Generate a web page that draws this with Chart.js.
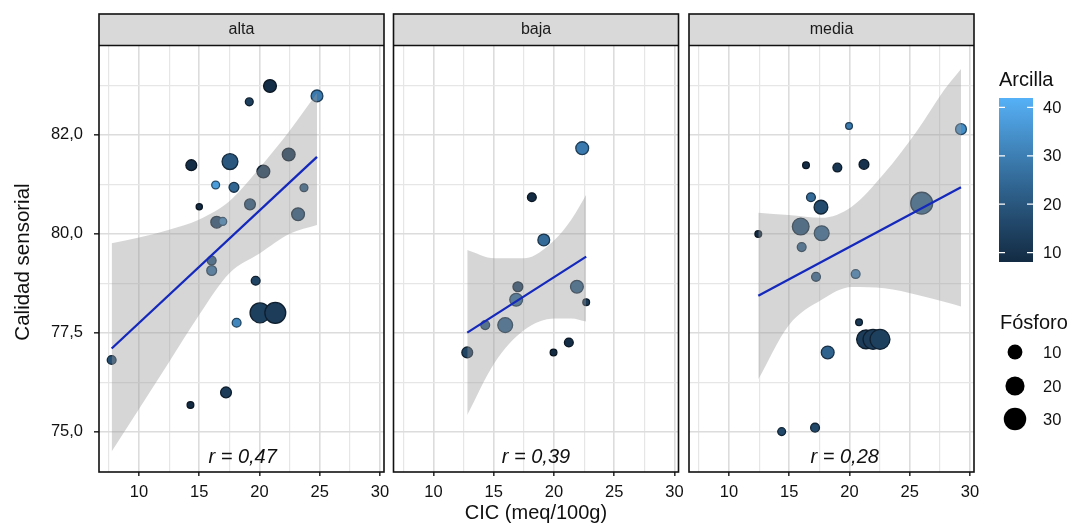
<!DOCTYPE html>
<html><head><meta charset="utf-8">
<script src="https://cdn.jsdelivr.net/npm/chart.js@4.4.1/dist/chart.umd.min.js"></script>
<style>
html,body{margin:0;padding:0;background:#fff;}
#wrap{position:relative;width:1072px;height:525px;overflow:hidden;}
canvas{position:absolute;left:0;top:0;}
</style></head><body>
<div id="wrap">
<canvas id="c1" width="1072" height="525"></canvas>
<canvas id="c2" width="1072" height="525"></canvas>
<canvas id="c3" width="1072" height="525"></canvas>
</div>
<script>
// ---------------- DATA ----------------
const panelNames = ['alta', 'baja', 'media'];

const altaCIC      = [20.87,19.15,24.77,22.42,17.55,14.34,20.32,16.36,17.88,23.69,15.0,19.21,16.45,16.95,23.2,16.03,16.03,19.68,20.04,21.31,18.1,7.73,17.22,14.27];
const altaCalidad  = [83.73,83.33,83.48,82.0,81.82,81.73,81.57,81.23,81.17,81.16,80.68,80.74,80.29,80.31,80.49,79.32,79.07,78.81,78.0,78.0,77.75,76.81,75.99,75.67];
const altaArcilla  = [9,14,29,12,20,9,13,37,24,22,8,19,16,31,19,21,27,15,14,13,32,18,13,8];
const altaFosforo  = [6.5,1.1,5,6.5,12,3.8,6.5,1.1,2.7,1.1,0.3,3.8,5,1.1,6.5,1.8,2.7,1.8,22,25,1.8,1.8,3.8,0.5];

const bajaCIC      = [22.34,18.16,19.15,17.0,16.86,21.9,22.67,14.29,15.95,12.8,19.96,21.23];
const bajaCalidad  = [82.16,80.92,79.84,78.66,78.33,78.66,78.27,77.69,77.69,77.0,77.0,77.25];
const bajaArcilla  = [29,8,25,15,25,22,12,21,23,15,8,9];
const bajaFosforo  = [6.5,1.8,5,2.7,6.5,6.5,0.5,1.8,10,3.8,0.5,1.8];

const mediaCIC     = [19.96,29.25,16.39,18.99,21.2,16.8,17.63,25.99,15.95,17.69,12.43,16.03,17.22,20.51,20.79,21.37,21.95,22.53,18.19,14.37,17.14];
const mediaCalidad = [82.72,82.64,81.73,81.67,81.75,80.92,80.67,80.77,80.18,80.01,79.99,79.66,78.91,78.98,77.76,77.33,77.33,77.33,77.0,75.0,75.1];
const mediaArcilla = [29,34,8,11,10,25,17,22,19,23,8,23,23,30,12,13,13,14,23,16,16];
const mediaFosforo = [0.5,3.8,0.5,1.8,2.7,1.8,8,28,14,10,0.5,1.8,1.8,1.8,0.5,19,22,22,6.5,1.1,1.8];

// fitted lines (endpoints)
const altaLineX  = [7.73, 24.77];  const altaLineY  = [77.1, 81.94];
const bajaLineX  = [12.8, 22.67];  const bajaLineY  = [77.5, 79.42];
const mediaLineX = [12.43, 29.25]; const mediaLineY = [78.43, 81.17];

// confidence bands
const altaBandX     = [7.73, 10, 12.5, 15, 17.5, 20, 22.5, 24.77];
const altaBandUpper = [79.76, 79.9, 80.1, 80.36, 80.82, 81.66, 82.6, 83.55];
const altaBandLower = [74.5, 75.57, 76.76, 77.95, 79.0, 79.5, 80.0, 80.22];

const bajaBandX     = [12.8, 15.06, 17.55, 20.04, 21.43, 22.67];
const bajaBandUpper = [79.59, 79.38, 79.38, 79.84, 80.35, 80.98];
const bajaBandLower = [75.42, 76.73, 77.57, 77.86, 77.86, 77.78];

const mediaBandX     = [12.43, 14.95, 17.69, 20.18, 22.9, 25.65, 27.85, 29.25];
const mediaBandUpper = [80.53, 80.47, 80.4, 80.68, 81.53, 82.62, 83.63, 84.16];
const mediaBandLower = [76.32, 77.68, 78.33, 78.65, 78.62, 78.45, 78.28, 78.16];

const rLabels = ['r = 0,47', 'r = 0,39', 'r = 0,28'];
const rLabelX = [18.6, 18.5, 19.6];

const xTickValues = [10, 15, 20, 25, 30];
const xTickLabels = ['10', '15', '20', '25', '30'];
const xMinorValues = [7.5, 12.5, 17.5, 22.5, 27.5];
const yTickValues = [75, 77.5, 80, 82.5];
const yTickLabels = ['75,0', '77,5', '80,0', '82,0'];
const yMinorValues = [76.25, 78.75, 81.25, 83.75];

const arcillaTicks = [10, 20, 30, 40];
const arcillaRange = [8.07, 41.93];
const fosforoTicks = [10, 20, 30];

// ---------------- STYLE HELPERS ----------------
const FONT = "'Liberation Sans', Arial, sans-serif";
const LOW = '#132B43', HIGH = '#56B1F7';

function hex2rgb(h){return [parseInt(h.slice(1,3),16),parseInt(h.slice(3,5),16),parseInt(h.slice(5,7),16)];}
function s2l(c){c/=255;return c<=0.04045?c/12.92:Math.pow((c+0.055)/1.055,2.4);}
function l2s(c){const v=c<=0.0031308?12.92*c:1.055*Math.pow(c,1/2.4)-0.055;return Math.round(Math.max(0,Math.min(1,v))*255);}
function rgb2lab(rgb){const r=s2l(rgb[0]),g=s2l(rgb[1]),b=s2l(rgb[2]);
  const x=(r*0.4124+g*0.3576+b*0.1805)/0.95047,y=(r*0.2126+g*0.7152+b*0.0722),z=(r*0.0193+g*0.1192+b*0.9505)/1.08883;
  const f=t=>t>0.008856?Math.cbrt(t):7.787*t+16/116;const fx=f(x),fy=f(y),fz=f(z);
  return [116*fy-16,500*(fx-fy),200*(fy-fz)];}
function lab2rgb(lab){const fy=(lab[0]+16)/116,fx=fy+lab[1]/500,fz=fy-lab[2]/200;
  const fi=t=>t*t*t>0.008856?t*t*t:(t-16/116)/7.787;
  const x=fi(fx)*0.95047,y=fi(fy),z=fi(fz)*1.08883;
  return [l2s(3.2406*x-1.5372*y-0.4986*z),l2s(-0.9689*x+1.8758*y+0.0415*z),l2s(0.0557*x-0.2040*y+1.0570*z)];}
const labLow = rgb2lab(hex2rgb(LOW)), labHigh = rgb2lab(hex2rgb(HIGH));
function rampRGB(t){t=Math.max(0,Math.min(1,t));return lab2rgb([0,1,2].map(i=>labLow[i]+(labHigh[i]-labLow[i])*t));}
function arcColor(v){const c=rampRGB((v-arcillaRange[0])/(arcillaRange[1]-arcillaRange[0]));return `rgb(${c[0]},${c[1]},${c[2]})`;}
function arcEdge(v){const c=rampRGB((v-arcillaRange[0])/(arcillaRange[1]-arcillaRange[0]));return `rgb(${Math.round(c[0]*0.5)},${Math.round(c[1]*0.5)},${Math.round(c[2]*0.5)})`;}
function sizeRadius(v){return (4.4 + 3.3*Math.sqrt(v))/2;}

const PANEL_TOP = 14, STRIP_BOTTOM = 45.5, PLOT_TOP = 46, PLOT_BOTTOM = 472;
const isIn = (arr, v) => arr.some(a => Math.abs(a - v) < 1e-6);

// ---------------- PANEL FACTORY ----------------
function makePanel(canvasId, idx, cic, cal, arc, fos, lx, ly, bx, bu, bl, padL, padR, showY, extraDraw) {
  const pts = cic.map((x, i) => ({x: x, y: cal[i]}));
  const line = lx.map((x, i) => ({x: x, y: ly[i]}));
  const upper = bx.map((x, i) => ({x: x, y: bu[i]}));
  const lower = bx.map((x, i) => ({x: x, y: bl[i]}));

  const deco = {
    id: 'deco' + idx,
    afterDraw(chart) {
      const ctx = chart.ctx, a = chart.chartArea;
      ctx.save();
      ctx.fillStyle = '#D9D9D9';
      ctx.fillRect(a.left, PANEL_TOP, a.right - a.left, STRIP_BOTTOM - PANEL_TOP);
      ctx.strokeStyle = '#111';
      ctx.lineWidth = 1.6;
      ctx.strokeRect(a.left, PANEL_TOP, a.right - a.left, PLOT_BOTTOM - PANEL_TOP);
      ctx.beginPath(); ctx.moveTo(a.left, STRIP_BOTTOM); ctx.lineTo(a.right, STRIP_BOTTOM); ctx.stroke();
      ctx.fillStyle = '#1a1a1a';
      ctx.font = '16px ' + FONT;
      ctx.textAlign = 'center'; ctx.textBaseline = 'middle';
      ctx.fillText(panelNames[idx], (a.left + a.right) / 2, 30);
      const xs = chart.scales.x, ys = chart.scales.y;
      ctx.font = 'italic 20px ' + FONT;
      ctx.fillStyle = '#111';
      ctx.fillText(rLabels[idx], xs.getPixelForValue(rLabelX[idx]), ys.getPixelForValue(74.36));
      ctx.restore();
      if (extraDraw) extraDraw(chart);
    }
  };

  return new Chart(document.getElementById(canvasId), {
    type: 'scatter',
    data: {
      datasets: [
        {type: 'line', data: line, borderColor: '#1429BC', borderWidth: 2.3, pointRadius: 0, fill: false, order: 0},
        {type: 'line', data: upper, borderWidth: 0, borderColor: 'rgba(0,0,0,0)', pointRadius: 0,
         cubicInterpolationMode: 'monotone', fill: '+1', backgroundColor: 'rgba(153,153,153,0.4)', order: 1},
        {type: 'line', data: lower, borderWidth: 0, borderColor: 'rgba(0,0,0,0)', pointRadius: 0,
         cubicInterpolationMode: 'monotone', fill: false, order: 2},
        {type: 'scatter', data: pts, order: 3,
         pointRadius: fos.map(sizeRadius),
         backgroundColor: arc.map(arcColor),
         borderColor: arc.map(arcEdge),
         borderWidth: 1.3}
      ]
    },
    options: {
      responsive: false, animation: false, devicePixelRatio: 1,
      layout: {padding: {left: padL, right: padR, top: PLOT_TOP, bottom: 0}},
      plugins: {legend: {display: false}, tooltip: {enabled: false}},
      events: [],
      scales: {
        x: {
          type: 'linear', min: 6.68, max: 30.33,
          afterBuildTicks: s => { s.ticks = xMinorValues.concat(xTickValues).sort((a,b)=>a-b).map(v => ({value: v})); },
          afterFit: s => { s.height = 525 - PLOT_BOTTOM; },
          border: {display: false},
          grid: {
            color: c => isIn(xTickValues, c.tick.value) ? '#DCDCDC' : '#E6E6E6',
            lineWidth: c => isIn(xTickValues, c.tick.value) ? 1.6 : 1.2,
            tickColor: c => isIn(xTickValues, c.tick.value) ? '#333' : 'rgba(0,0,0,0)',
            tickLength: 4, drawTicks: true
          },
          ticks: {
            autoSkip: false, maxRotation: 0, padding: 7, color: '#111',
            font: {family: FONT, size: 16.5},
            callback: v => { const i = xTickValues.findIndex(t => Math.abs(t - v) < 1e-6); return i >= 0 ? xTickLabels[i] : ''; }
          }
        },
        y: {
          type: 'linear', min: 73.98, max: 84.74,
          afterBuildTicks: s => { s.ticks = yMinorValues.concat(yTickValues).sort((a,b)=>a-b).map(v => ({value: v})); },
          afterFit: s => { s.width = showY ? 99 : 0; },
          border: {display: false},
          grid: {
            color: c => isIn(yTickValues, c.tick.value) ? '#DCDCDC' : '#E6E6E6',
            lineWidth: c => isIn(yTickValues, c.tick.value) ? 1.6 : 1.2,
            tickColor: c => (showY && isIn(yTickValues, c.tick.value)) ? '#333' : 'rgba(0,0,0,0)',
            tickLength: showY ? 5 : 0, drawTicks: showY
          },
          ticks: {
            display: showY, autoSkip: false, padding: 11, color: '#111',
            font: {family: FONT, size: 16.5},
            callback: v => { const i = yTickValues.findIndex(t => Math.abs(t - v) < 1e-6); return i >= 0 ? yTickLabels[i] : ''; }
          }
        }
      }
    },
    plugins: [deco]
  });
}

function drawYTitle(chart) {
  const ctx = chart.ctx;
  ctx.save();
  ctx.translate(23, 262);
  ctx.rotate(-Math.PI / 2);
  ctx.font = '20.5px ' + FONT; ctx.fillStyle = '#111';
  ctx.textAlign = 'center'; ctx.textBaseline = 'middle';
  ctx.fillText('Calidad sensorial', 0, 0);
  ctx.restore();
}
function drawXTitle(chart) {
  const ctx = chart.ctx, a = chart.chartArea;
  ctx.save();
  ctx.font = '20px ' + FONT; ctx.fillStyle = '#111';
  ctx.textAlign = 'center'; ctx.textBaseline = 'middle';
  ctx.fillText('CIC (meq/100g)', (a.left + a.right) / 2, 513);
  ctx.restore();
}
function drawLegend(chart) {
  const ctx = chart.ctx;
  ctx.save();
  ctx.fillStyle = '#111';
  ctx.font = '20px ' + FONT; ctx.textAlign = 'left'; ctx.textBaseline = 'middle';
  ctx.fillText('Arcilla', 999, 80);
  const bx0 = 999, bx1 = 1033, by0 = 98, by1 = 262;
  const g = ctx.createLinearGradient(0, by1, 0, by0);
  for (let k = 0; k <= 20; k++) { const c = rampRGB(k / 20); g.addColorStop(k / 20, `rgb(${c[0]},${c[1]},${c[2]})`); }
  ctx.fillStyle = g;
  ctx.fillRect(bx0, by0, bx1 - bx0, by1 - by0);
  const vy = v => by1 - (v - arcillaRange[0]) / (arcillaRange[1] - arcillaRange[0]) * (by1 - by0);
  ctx.strokeStyle = '#fff'; ctx.lineWidth = 1.3;
  ctx.font = '16.5px ' + FONT; ctx.fillStyle = '#111';
  arcillaTicks.forEach(v => {
    const y = vy(v);
    ctx.beginPath(); ctx.moveTo(bx0, y); ctx.lineTo(bx0 + 6, y); ctx.moveTo(bx1 - 6, y); ctx.lineTo(bx1, y); ctx.stroke();
    ctx.fillText(String(v), 1043, y + 1);
  });
  ctx.font = '20px ' + FONT;
  ctx.fillText('Fósforo', 1000, 323);
  const ys = [352, 386, 419];
  fosforoTicks.forEach((v, i) => {
    ctx.beginPath(); ctx.fillStyle = '#000';
    ctx.arc(1015, ys[i], sizeRadius(v), 0, Math.PI * 2); ctx.fill();
    ctx.fillStyle = '#111'; ctx.font = '16.5px ' + FONT;
    ctx.fillText(String(v), 1043, ys[i] + 1);
  });
  ctx.restore();
}

makePanel('c1', 0, altaCIC, altaCalidad, altaArcilla, altaFosforo, altaLineX, altaLineY, altaBandX, altaBandUpper, altaBandLower, 0, 1072 - 384, true, drawYTitle);
makePanel('c2', 1, bajaCIC, bajaCalidad, bajaArcilla, bajaFosforo, bajaLineX, bajaLineY, bajaBandX, bajaBandUpper, bajaBandLower, 393.5, 1072 - 678.5, false, drawXTitle);
makePanel('c3', 2, mediaCIC, mediaCalidad, mediaArcilla, mediaFosforo, mediaLineX, mediaLineY, mediaBandX, mediaBandUpper, mediaBandLower, 689, 1072 - 974, false, drawLegend);
</script>
</body></html>
